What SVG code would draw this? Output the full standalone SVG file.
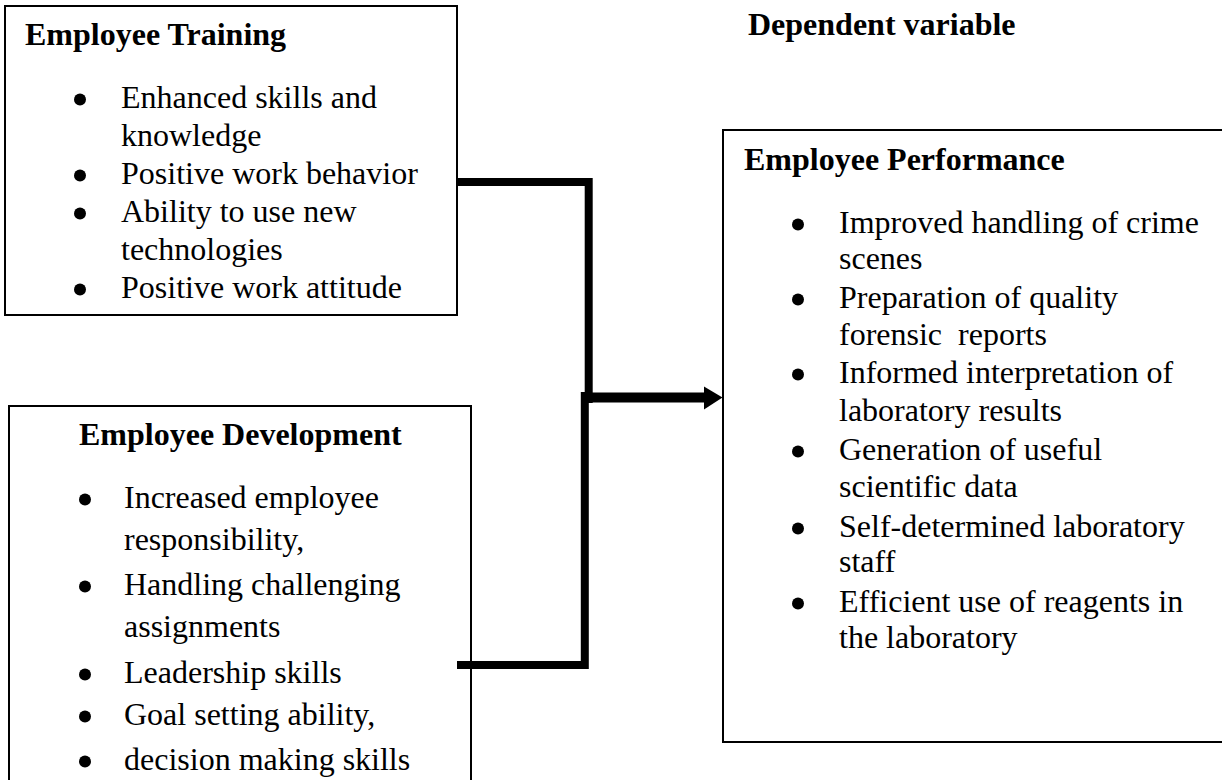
<svg xmlns="http://www.w3.org/2000/svg" width="1222" height="780" viewBox="0 0 1222 780">
  <style>
    .box { fill: #ffffff; stroke: #000000; stroke-width: 2; }
    .title { font-family: "Liberation Serif", "Times New Roman", serif; font-weight: bold; font-size: 32px; fill: #000000; }
    .item { font-family: "Liberation Serif", "Times New Roman", serif; font-size: 32px; fill: #000000; white-space: pre; }
    .wire { fill: none; stroke: #000000; stroke-linejoin: miter; stroke-linecap: butt; }
  </style>
  <defs>
    <!-- list bullet -->
    <circle id="dot" r="6" fill="#000000"/>
  </defs>
  <rect width="1222" height="780" fill="#ffffff"/>

  <!-- column heading -->
  <text id="heading" class="title" x="748" y="35">Dependent variable</text>

  <!-- independent variable: training -->
  <g id="training">
    <rect class="box" x="5" y="6" width="452" height="309"/>
    <text class="title" x="25" y="45">Employee Training</text>
    <use href="#dot" x="80" y="99.5"/>
    <text class="item" x="121" y="108">Enhanced skills and</text>
    <text class="item" x="121" y="146">knowledge</text>
    <use href="#dot" x="80" y="175.5"/>
    <text class="item" x="121" y="184">Positive work behavior</text>
    <use href="#dot" x="80" y="213.5"/>
    <text class="item" x="121" y="222">Ability to use new</text>
    <text class="item" x="121" y="260">technologies</text>
    <use href="#dot" x="80" y="289.5"/>
    <text class="item" x="121" y="298">Positive work attitude</text>
  </g>

  <!-- independent variable: development -->
  <g id="development">
    <rect class="box" x="9" y="406" width="462" height="400"/>
    <text class="title" x="79" y="445">Employee Development</text>
    <use href="#dot" x="85" y="499.5"/>
    <text class="item" x="124" y="508">Increased employee</text>
    <text class="item" x="124" y="550">responsibility,</text>
    <use href="#dot" x="85" y="586.5"/>
    <text class="item" x="124" y="595">Handling challenging</text>
    <text class="item" x="124" y="637">assignments</text>
    <use href="#dot" x="85" y="674.5"/>
    <text class="item" x="124" y="683">Leadership skills</text>
    <use href="#dot" x="85" y="716.5"/>
    <text class="item" x="124" y="725">Goal setting ability,</text>
    <use href="#dot" x="85" y="761.5"/>
    <text class="item" x="124" y="770">decision making skills</text>
  </g>

  <!-- dependent variable: performance -->
  <g id="performance">
    <rect class="box" x="723" y="130" width="502" height="612"/>
    <text class="title" x="744" y="170">Employee Performance</text>
    <use href="#dot" x="798" y="224.5"/>
    <text class="item" x="839" y="233">Improved handling of crime</text>
    <text class="item" x="839" y="269">scenes</text>
    <use href="#dot" x="798" y="299.5"/>
    <text class="item" x="839" y="308">Preparation of quality</text>
    <text class="item" x="839" y="345">forensic  reports</text>
    <use href="#dot" x="798" y="374.5"/>
    <text class="item" x="839" y="383">Informed interpretation of</text>
    <text class="item" x="839" y="421">laboratory results</text>
    <use href="#dot" x="798" y="451.5"/>
    <text class="item" x="839" y="460">Generation of useful</text>
    <text class="item" x="839" y="497">scientific data</text>
    <use href="#dot" x="798" y="528.5"/>
    <text class="item" x="839" y="537">Self-determined laboratory</text>
    <text class="item" x="839" y="572">staff</text>
    <use href="#dot" x="798" y="603.5"/>
    <text class="item" x="839" y="612">Efficient use of reagents in</text>
    <text class="item" x="839" y="648">the laboratory</text>
  </g>

  <!-- elbow connectors joining into one arrow -->
  <g id="connectors">
    <polyline class="wire" stroke-width="8" points="457,182 588.7,182 588.7,403"/>
    <polyline class="wire" stroke-width="8" points="457,665 584.8,665 584.8,392"/>
    <line class="wire" stroke-width="10" x1="581" y1="397.5" x2="706" y2="397.5"/>
    <polygon fill="#000000" points="704,386.5 722.5,397.5 704,409.5"/>
  </g>
</svg>
